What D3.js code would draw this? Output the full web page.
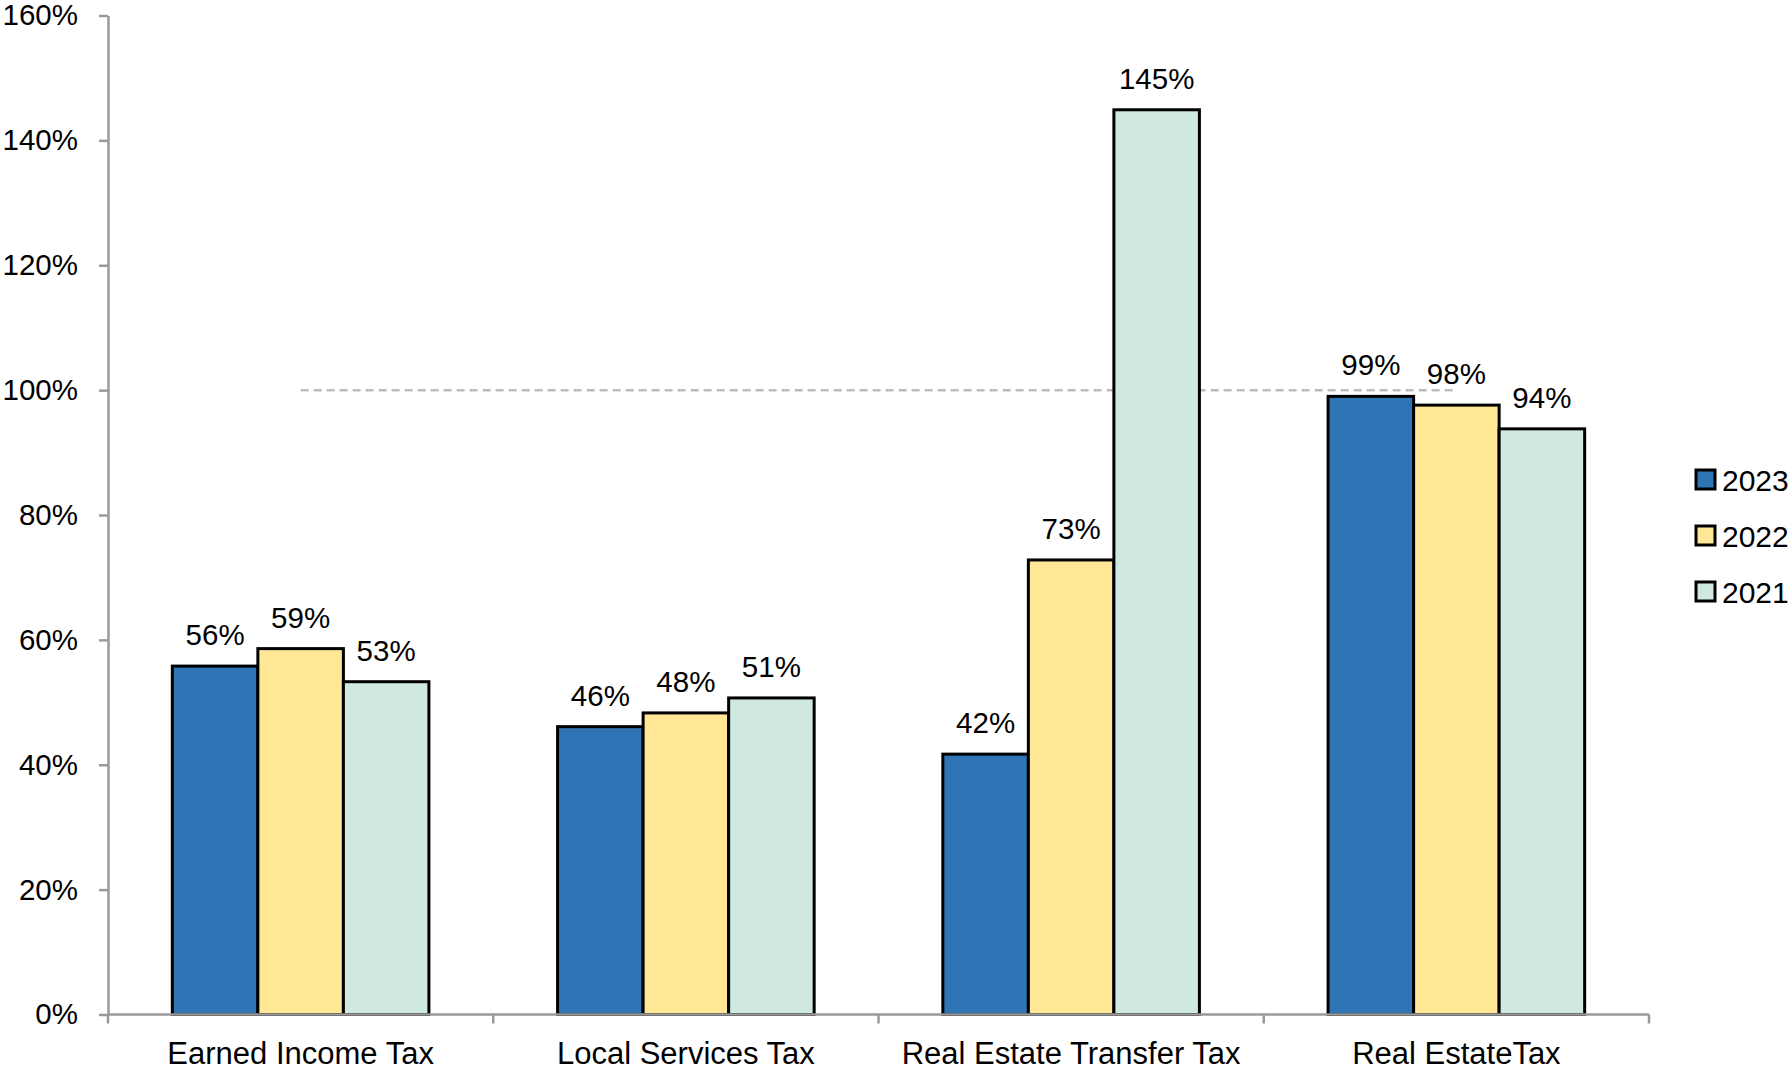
<!DOCTYPE html>
<html>
<head>
<meta charset="utf-8">
<script src="https://cdn.jsdelivr.net/npm/d3@7"></script>
<style>
  body { margin: 0; background: #fff; }
  text { font-family: "Liberation Sans", Arial, sans-serif; fill: #000; }
</style>
</head>
<body>
<div id="chart"></div>
<script>
// categories and series (percent)
const categories = ["Earned Income Tax", "Local Services Tax", "Real Estate Transfer Tax", "Real EstateTax"];
const years = ["2023", "2022", "2021"];
const values2023 = [55.8, 46.1, 41.7, 99.0];
const values2022 = [58.6, 48.3, 72.8, 97.6];
const values2021 = [53.3, 50.7, 144.9, 93.8];
const yTicks = [0, 20, 40, 60, 80, 100, 120, 140, 160];
const referenceValue = 100;

const colors = { "2023": "#2f74b5", "2022": "#ffe796", "2021": "#cfe9e1" };
const seriesByYear = { "2023": values2023, "2022": values2022, "2021": values2021 };

const width = 1791, height = 1070;
const margin = { left: 108, right: 142, top: 15.5, bottom: 55.5 };

const svg = d3.select("#chart").append("svg")
    .attr("width", width)
    .attr("height", height);

const x = d3.scaleBand()
    .domain(categories)
    .range([margin.left, width - margin.right]);

const xInner = d3.scaleBand()
    .domain(years)
    .range([0, x.bandwidth() * 0.666]);
const groupOffset = (x.bandwidth() - xInner.range()[1]) / 2;

const y = d3.scaleLinear()
    .domain([0, 160])
    .range([height - margin.bottom, margin.top]);

// y axis
const yAxis = svg.append("g")
    .attr("transform", "translate(" + margin.left + ",0)")
    .call(d3.axisLeft(y).tickValues(yTicks).tickSize(9).tickSizeOuter(0).tickPadding(21)
        .tickFormat(d => d + "%"));
yAxis.selectAll("path, line").attr("stroke", "#9a9a9a").attr("stroke-width", 2.5);
yAxis.selectAll("text").style("font-size", "29.5px").attr("fill", "#000");

// dashed 100% reference line, from first to last category centre
svg.append("line")
    .attr("x1", x(categories[0]) + x.bandwidth() / 2)
    .attr("x2", x(categories[categories.length - 1]) + x.bandwidth() / 2)
    .attr("y1", y(referenceValue))
    .attr("y2", y(referenceValue))
    .attr("stroke", "#bdbdbd")
    .attr("stroke-width", 2.5)
    .attr("stroke-dasharray", "8,5");

// bars
const groups = svg.append("g").selectAll("g")
    .data(categories)
    .join("g")
    .attr("transform", d => "translate(" + (x(d) + groupOffset) + ",0)");

groups.selectAll("rect")
    .data((d, i) => years.map(yr => ({ year: yr, value: seriesByYear[yr][i] })))
    .join("rect")
    .attr("x", d => xInner(d.year))
    .attr("width", xInner.bandwidth())
    .attr("y", d => y(d.value))
    .attr("height", d => y(0) - y(d.value))
    .attr("fill", d => colors[d.year])
    .attr("stroke", "#000")
    .attr("stroke-width", 3);

groups.selectAll("text")
    .data((d, i) => years.map(yr => ({ year: yr, value: seriesByYear[yr][i] })))
    .join("text")
    .attr("x", d => xInner(d.year) + xInner.bandwidth() / 2)
    .attr("y", d => y(d.value) - 21)
    .attr("text-anchor", "middle")
    .style("font-size", "29.5px")
    .text(d => Math.round(d.value) + "%");

// x axis: baseline plus ticks at category boundaries
const xAxis = svg.append("g");
xAxis.append("line")
    .attr("x1", margin.left).attr("x2", width - margin.right)
    .attr("y1", y(0)).attr("y2", y(0))
    .attr("stroke", "#9a9a9a").attr("stroke-width", 2.5);
const boundaries = categories.map(c => x(c)).concat([x.range()[1]]);
xAxis.selectAll(".bound")
    .data(boundaries)
    .join("line")
    .attr("class", "bound")
    .attr("x1", d => d).attr("x2", d => d)
    .attr("y1", y(0)).attr("y2", y(0) + 9)
    .attr("stroke", "#9a9a9a").attr("stroke-width", 2.5);
xAxis.selectAll(".cat")
    .data(categories)
    .join("text")
    .attr("class", "cat")
    .attr("x", d => x(d) + x.bandwidth() / 2)
    .attr("y", y(0) + 49)
    .attr("text-anchor", "middle")
    .style("font-size", "31px")
    .text(d => d);

// legend
const legend = svg.append("g").attr("transform", "translate(1696,0)");
const legendY = [479.5, 535.5, 591.5];
years.forEach((yr, i) => {
    legend.append("rect")
        .attr("x", 0).attr("y", legendY[i] - 9.5)
        .attr("width", 19).attr("height", 19)
        .attr("fill", colors[yr])
        .attr("stroke", "#000").attr("stroke-width", 3);
    legend.append("text")
        .attr("x", 26).attr("y", legendY[i] + 11)
        .style("font-size", "30px")
        .text(yr);
});
</script>
</body>
</html>
